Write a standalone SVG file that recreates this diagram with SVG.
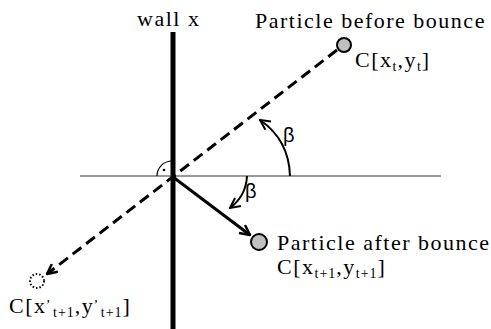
<svg xmlns="http://www.w3.org/2000/svg" width="491" height="329" viewBox="0 0 491 329">
<style>
text{font-family:"Liberation Serif","Times New Roman",serif;font-size:22px;fill:#000;letter-spacing:1.5px}
.sub{font-size:14px;letter-spacing:1px}
.beta{font-family:"Liberation Sans",Arial,sans-serif;font-size:20px;letter-spacing:0}
.dash{stroke:#000;stroke-width:3;stroke-dasharray:11 6;fill:none}
.solid{stroke:#000;stroke-width:3;fill:none}
.arc{stroke:#000;stroke-width:2;fill:none}
.ball{fill:#c0c0c0;stroke:#000;stroke-width:2}
</style>
<defs>
<marker id="av" viewBox="0 0 12 12" refX="11" refY="6" markerWidth="12" markerHeight="12" markerUnits="userSpaceOnUse" orient="auto">
<path d="M1,1 L11,6 L1,11" fill="none" stroke="#000" stroke-width="2.5"/>
</marker>
<marker id="avs" viewBox="0 0 12 12" refX="11" refY="6" markerWidth="12" markerHeight="12" markerUnits="userSpaceOnUse" orient="auto">
<path d="M1,1 L11,6 L1,11" fill="none" stroke="#000" stroke-width="2"/>
</marker>
</defs>
<g id="wall">
<line x1="173" y1="32" x2="173" y2="329" stroke="#000" stroke-width="5"/>
<text x="137" y="26">wall x</text>
</g>
<g id="normal">
<line x1="80" y1="176" x2="441" y2="176" stroke="#333" stroke-width="1"/>
<path d="M157,176 A15,15 0 0 1 172,161" fill="none" stroke="#000" stroke-width="1.2"/>
<circle cx="164" cy="170" r="1.3" fill="#000"/>
</g>
<g id="connectors">
<line class="dash" x1="337" y1="50" x2="47" y2="274" marker-end="url(#av)"/>
<line class="solid" x1="173" y1="177" x2="250" y2="235" marker-end="url(#av)"/>
<path class="arc" d="M290,176 Q289,140 260,120" marker-end="url(#avs)"/>
<path class="arc" d="M247,176 Q246,196 230,208" marker-end="url(#avs)"/>
</g>
<g id="before">
<circle class="ball" cx="344" cy="45" r="7"/>
<text x="255" y="28">Particle before bounce</text>
<text x="355" y="67">C[x<tspan class="sub" dy="4">t</tspan><tspan dy="-4">,y</tspan><tspan class="sub" dy="4">t</tspan><tspan dy="-4">]</tspan></text>
</g>
<g id="after">
<circle class="ball" cx="259" cy="242" r="8"/>
<text x="277" y="250">Particle after bounce</text>
<text x="277" y="274">C[x<tspan class="sub" dy="4">t+1</tspan><tspan dy="-4">,y</tspan><tspan class="sub" dy="4">t+1</tspan><tspan dy="-4">]</tspan></text>
</g>
<g id="mirror">
<circle cx="37" cy="281" r="7" fill="none" stroke="#000" stroke-width="2" stroke-dasharray="1.5 2"/>
<text x="9" y="313">C[x<tspan class="sub" dy="-11">,</tspan><tspan class="sub" dx="2" dy="15">t+1</tspan><tspan dy="-4">,y</tspan><tspan class="sub" dy="-11">,</tspan><tspan class="sub" dx="2" dy="15">t+1</tspan><tspan dy="-4">]</tspan></text>
</g>
<g id="beta-labels">
<text class="beta" x="283" y="142">β</text>
<text class="beta" x="245" y="198">β</text>
</g>
</svg>
